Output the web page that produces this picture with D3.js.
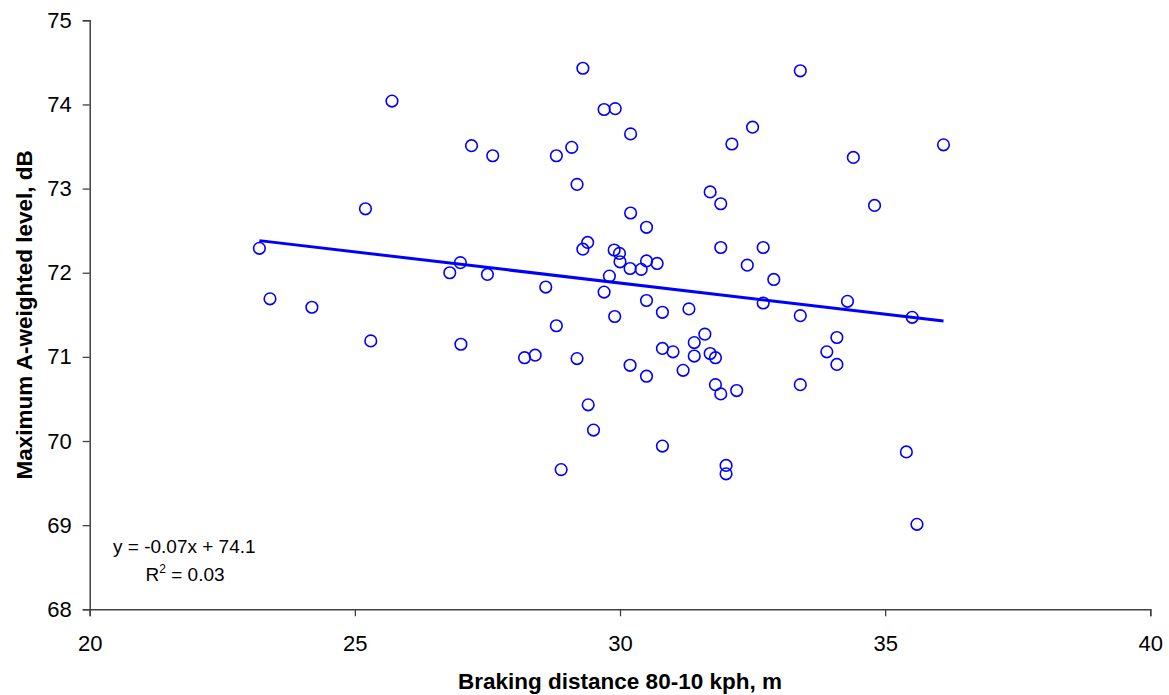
<!DOCTYPE html>
<html>
<head>
<meta charset="utf-8">
<script src="https://cdn.jsdelivr.net/npm/d3@7"></script>
<style>
  body { margin: 0; background: #fff; }
  text { font-family: Arial, "Liberation Sans", sans-serif; }
</style>
</head>
<body>
<div id="chart"></div>
<script>
// braking distance (m)
var braking = [23.20, 23.40, 24.19, 25.20, 25.30, 25.70, 26.79, 26.99, 27.00, 27.20,
  27.50, 27.60, 28.20, 28.40, 28.60, 28.80, 28.80, 28.89, 29.09, 29.19,
  29.19, 29.30, 29.30, 29.39, 29.40, 29.50, 29.70, 29.70, 29.80, 29.89,
  29.90, 29.91, 29.99, 30.00, 30.19, 30.19, 30.20, 30.20, 30.40, 30.50,
  30.50, 30.50, 30.50, 30.70, 30.80, 30.80, 30.80, 31.00, 31.19, 31.30,
  31.40, 31.40, 31.60, 31.70, 31.70, 31.80, 31.80, 31.90, 31.90, 31.90,
  32.00, 32.00, 32.11, 32.20, 32.40, 32.50, 32.70, 32.70, 32.90, 33.40,
  33.40, 33.40, 33.90, 34.09, 34.09, 34.29, 34.40, 34.80, 35.40, 35.51,
  35.60, 36.10];
// max A-weighted level (dB)
var level = [72.29, 71.69, 71.59, 72.76, 71.19, 74.04, 72.00, 72.12, 71.15, 73.51,
  71.98, 73.39, 70.99, 71.02, 71.83, 73.39, 71.37, 69.66, 73.49, 73.05,
  70.98, 74.43, 72.28, 72.36, 70.43, 70.13, 73.94, 71.77, 71.96, 72.27,
  71.48, 73.95, 72.23, 72.13, 70.90, 72.05, 73.65, 72.71, 72.04, 72.54,
  72.14, 71.67, 70.77, 72.11, 71.53, 71.10, 69.94, 71.06, 70.84, 71.57,
  71.17, 71.01, 71.27, 72.96, 71.04, 70.99, 70.67, 72.82, 72.30, 70.56,
  69.71, 69.61, 73.53, 70.60, 72.09, 73.73, 72.30, 71.64, 71.92, 74.40,
  71.49, 70.67, 71.06, 71.23, 70.91, 71.66, 73.37, 72.80, 69.87, 71.47,
  69.01, 73.52];

var xTicks = [20, 25, 30, 35, 40];
var yTicks = [68, 69, 70, 71, 72, 73, 74, 75];
var eqLabel = "y = -0.07x + 74.1";
var r2Label = ["R", "2", " = 0.03"];

var W = 1169, H = 695;
var margin = {top: 20.3, right: 18.7, bottom: 85.7, left: 89.7};
var width = W - margin.left - margin.right,
    height = H - margin.top - margin.bottom;

var svg = d3.select("#chart").append("svg")
  .attr("width", W)
  .attr("height", H);

var g = svg.append("g")
  .attr("transform", "translate(" + margin.left + "," + margin.top + ")");

var x = d3.scaleLinear().domain([20, 40]).range([0, width]);
var y = d3.scaleLinear().domain([68, 75]).range([height, 0]);

var pts = braking.map(function(d, i){ return {x: d, y: level[i]}; });

// least squares trend, like the spreadsheet one
var mx = d3.mean(braking), my = d3.mean(level);
var sxy = d3.sum(pts, function(p){ return (p.x - mx) * (p.y - my); });
var sxx = d3.sum(pts, function(p){ return (p.x - mx) * (p.x - mx); });
var slope = sxy / sxx, icpt = my - slope * mx;
var xExt = d3.extent(braking);
var trend = xExt.map(function(v){ return {x: v, y: icpt + slope * v}; });

// axes
var xAxis = g.append("g")
  .attr("transform", "translate(0," + height + ")")
  .call(d3.axisBottom(x).tickValues(xTicks).tickFormat(d3.format("d")).tickSize(7).tickPadding(19));
var yAxis = g.append("g")
  .call(d3.axisLeft(y).tickValues(yTicks).tickFormat(d3.format("d")).tickSize(7).tickPadding(11));

[xAxis, yAxis].forEach(function(a){
  a.select(".domain").attr("stroke", "#404040").attr("stroke-width", 1.5);
  a.selectAll(".tick line").attr("stroke", "#404040").attr("stroke-width", 1.3);
  a.selectAll(".tick text")
    .attr("fill", "#000")
    .style("font-size", "22px")
    .style("font-family", "Arial, 'Liberation Sans', sans-serif");
});

// points
g.selectAll(".pt")
  .data(pts)
  .enter().append("circle")
  .attr("class", "pt")
  .attr("cx", function(d){ return x(d.x); })
  .attr("cy", function(d){ return y(d.y); })
  .attr("r", 5.8)
  .attr("fill", "none")
  .attr("stroke", "#0000ff")
  .attr("stroke-width", 1.6);

// trend line
var line = d3.line()
  .x(function(d){ return x(d.x); })
  .y(function(d){ return y(d.y); });

g.append("path")
  .datum(trend)
  .attr("d", line)
  .attr("fill", "none")
  .attr("stroke", "#0000ff")
  .attr("stroke-width", 3);

// equation text
g.append("text")
  .attr("x", 113 - margin.left)
  .attr("y", 552.7 - margin.top)
  .style("font-size", "19px")
  .text(eqLabel);

var r2 = g.append("text")
  .attr("x", 145.5 - margin.left)
  .attr("y", 580.7 - margin.top)
  .style("font-size", "19px");
r2.append("tspan").text(r2Label[0]);
r2.append("tspan").attr("dy", -8).style("font-size", "12px").text(r2Label[1]);
r2.append("tspan").attr("dy", 8).text(r2Label[2]);

// axis titles
svg.append("text")
  .attr("x", margin.left + width / 2)
  .attr("y", 689)
  .attr("text-anchor", "middle")
  .style("font-size", "22.5px")
  .style("font-weight", "bold")
  .text("Braking distance 80-10 kph, m");

svg.append("text")
  .attr("transform", "translate(31.5," + (margin.top + height / 2) + ") rotate(-90)")
  .attr("text-anchor", "middle")
  .style("font-size", "22.5px")
  .style("font-weight", "bold")
  .text("Maximum A-weighted level, dB");
</script>
</body>
</html>
